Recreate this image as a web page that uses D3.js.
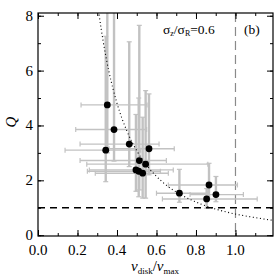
<!DOCTYPE html>
<html>
<head>
<meta charset="utf-8">
<script src="https://cdn.jsdelivr.net/npm/d3@7"></script>
<style>
  body { margin: 0; background: #fff; }
  svg text { font-family: "Liberation Serif", "DejaVu Serif", serif; fill: #000; }
</style>
</head>
<body>
<div id="chart"></div>
<script>
// data
var vDisk = [0.351, 0.385, 0.462, 0.343, 0.562, 0.513, 0.545, 0.496, 0.510, 0.530, 0.716, 0.866, 0.854, 0.901];
var qVal  = [4.75, 3.85, 3.32, 3.10, 3.15, 2.72, 2.59, 2.38, 2.33, 2.26, 1.53, 1.83, 1.32, 1.48];
var vLo   = [0.218, 0.191, 0.213, 0.137, 0.360, 0.213, 0.247, 0.260, 0.250, 0.290, 0.600, 0.660, 0.630, 0.770];
var vHi   = [0.552, 0.550, 0.613, 0.520, 0.690, 0.650, 0.860, 0.685, 0.620, 0.660, 0.860, 1.010, 1.110, 1.040];
var qLo   = [3.00, 2.70, 2.50, 1.95, 2.20, 1.65, 1.35, 1.60, 1.40, 1.35, 1.20, 1.30, 0.98, 1.22];
var qHi   = [9.00, 9.00, 7.05, 7.25, 5.15, 7.65, 5.27, 4.40, 5.00, 4.30, 2.40, 2.62, 1.70, 2.14];

// dotted model curve
var curveV = [0.300, 0.310, 0.330, 0.360, 0.400, 0.450, 0.500, 0.560, 0.630, 0.720, 0.820, 0.920, 1.000, 1.100, 1.190];
var curveQ = [8.56, 8.01, 7.07, 5.94, 4.81, 3.80, 3.08, 2.46, 1.94, 1.49, 1.15, 0.91, 0.77, 0.64, 0.54];

var xTicks = [0.0, 0.2, 0.4, 0.6, 0.8, 1.0];
var yTicks = [0, 2, 4, 6, 8];

var width = 276, height = 278;
var pl = 38, pr = 273, pt = 13, pb = 236;

var x = d3.scaleLinear().domain([0, 1.19]).range([pl, pr]);
var y = d3.scaleLinear().domain([-0.03, 8.1]).range([pb, pt]);

var svg = d3.select("#chart").append("svg")
    .attr("width", width)
    .attr("height", height);

svg.append("clipPath").attr("id", "clip")
  .append("rect")
    .attr("x", pl).attr("y", pt)
    .attr("width", pr - pl).attr("height", pb - pt);

var plot = svg.append("g").attr("clip-path", "url(#clip)");

var pts = vDisk.map(function(v, i) {
    return { v: v, q: qVal[i], vlo: vLo[i], vhi: vHi[i], qlo: qLo[i], qhi: qHi[i] };
});

// vertical reference at v=1
plot.append("line")
    .attr("x1", x(1)).attr("x2", x(1))
    .attr("y1", pt).attr("y2", pb)
    .attr("stroke", "#8a8a8a").attr("stroke-width", 1.2)
    .attr("stroke-dasharray", "9,5");

// error bars
var eb = plot.append("g").attr("stroke", "#c2c2c2").attr("fill", "none");
pts.forEach(function(d) {
    eb.append("line")
        .attr("x1", x(d.v)).attr("x2", x(d.v))
        .attr("y1", y(d.qlo)).attr("y2", y(d.qhi))
        .attr("stroke-width", 2.4);
    eb.append("line")
        .attr("x1", x(d.v) - 2.5).attr("x2", x(d.v) + 2.5)
        .attr("y1", y(d.qlo)).attr("y2", y(d.qlo)).attr("stroke-width", 1.2);
    eb.append("line")
        .attr("x1", x(d.v) - 2.5).attr("x2", x(d.v) + 2.5)
        .attr("y1", y(d.qhi)).attr("y2", y(d.qhi)).attr("stroke-width", 1.2);
    eb.append("line")
        .attr("x1", x(d.vlo)).attr("x2", x(d.vhi))
        .attr("y1", y(d.q)).attr("y2", y(d.q))
        .attr("stroke-width", 1.4);
    eb.append("line")
        .attr("x1", x(d.vlo)).attr("x2", x(d.vlo))
        .attr("y1", y(d.q) - 2.5).attr("y2", y(d.q) + 2.5).attr("stroke-width", 1.2);
    eb.append("line")
        .attr("x1", x(d.vhi)).attr("x2", x(d.vhi))
        .attr("y1", y(d.q) - 2.5).attr("y2", y(d.q) + 2.5).attr("stroke-width", 1.2);
});

// Q = 1 line
plot.append("line")
    .attr("x1", pl).attr("x2", pr)
    .attr("y1", y(1)).attr("y2", y(1))
    .attr("stroke", "#000").attr("stroke-width", 1.5)
    .attr("stroke-dasharray", "7,5");

// dotted curve
var line = d3.line()
    .x(function(d) { return x(d[0]); })
    .y(function(d) { return y(d[1]); })
    .curve(d3.curveMonotoneX);
plot.append("path")
    .datum(curveV.map(function(v, i) { return [v, curveQ[i]]; }))
    .attr("d", line)
    .attr("fill", "none")
    .attr("stroke", "#000").attr("stroke-width", 1.1)
    .attr("stroke-dasharray", "1,2.6");

// points
plot.selectAll("circle")
    .data(pts)
    .enter().append("circle")
    .attr("cx", function(d) { return x(d.v); })
    .attr("cy", function(d) { return y(d.q); })
    .attr("r", 3.4)
    .attr("fill", "#000");

// frame and ticks
svg.append("rect")
    .attr("x", pl).attr("y", pt)
    .attr("width", pr - pl).attr("height", pb - pt)
    .attr("fill", "none").attr("stroke", "#000").attr("stroke-width", 1.2);

var xMinor = d3.range(0, 1.2, 0.1);
var yMinor = d3.range(0, 8.01, 1);

function noDomain(g) { g.select(".domain").remove(); }

svg.append("g").attr("transform", "translate(0," + pb + ")")
    .call(d3.axisTop(x).tickValues(xMinor).tickSize(3).tickFormat("")).call(noDomain);
svg.append("g").attr("transform", "translate(0," + pt + ")")
    .call(d3.axisBottom(x).tickValues(xMinor).tickSize(3).tickFormat("")).call(noDomain);
svg.append("g").attr("transform", "translate(0," + pb + ")")
    .call(d3.axisTop(x).tickValues(xTicks).tickSize(6).tickFormat("")).call(noDomain);
svg.append("g").attr("transform", "translate(0," + pt + ")")
    .call(d3.axisBottom(x).tickValues(xTicks).tickSize(6).tickFormat("")).call(noDomain);

svg.append("g").attr("transform", "translate(" + pl + ",0)")
    .call(d3.axisRight(y).tickValues(yMinor).tickSize(3).tickFormat("")).call(noDomain);
svg.append("g").attr("transform", "translate(" + pr + ",0)")
    .call(d3.axisLeft(y).tickValues(yMinor).tickSize(3).tickFormat("")).call(noDomain);
svg.append("g").attr("transform", "translate(" + pl + ",0)")
    .call(d3.axisRight(y).tickValues(yTicks).tickSize(6).tickFormat("")).call(noDomain);
svg.append("g").attr("transform", "translate(" + pr + ",0)")
    .call(d3.axisLeft(y).tickValues(yTicks).tickSize(6).tickFormat("")).call(noDomain);

svg.selectAll(".tick line").attr("stroke", "#000").attr("stroke-width", 1);
svg.selectAll(".tick text").remove();

// tick labels
svg.selectAll(".xlab")
    .data(xTicks)
    .enter().append("text")
    .attr("x", function(d) { return x(d); })
    .attr("y", 255)
    .attr("text-anchor", "middle")
    .attr("font-size", 15)
    .text(function(d) { return d3.format(".1f")(d); });

svg.selectAll(".ylab")
    .data(yTicks)
    .enter().append("text")
    .attr("x", 33)
    .attr("y", function(d) { return y(d) + 5; })
    .attr("text-anchor", "end")
    .attr("font-size", 15)
    .text(function(d) { return d; });

// axis titles
svg.append("text")
    .attr("transform", "translate(16,122) rotate(-90)")
    .attr("text-anchor", "middle")
    .attr("font-size", 15)
    .attr("font-style", "italic")
    .text("Q");

var xt = svg.append("text")
    .attr("x", 155).attr("y", 271)
    .attr("text-anchor", "middle")
    .attr("font-size", 15);
xt.append("tspan").attr("font-style", "italic").text("v");
xt.append("tspan").attr("font-size", 9).attr("dy", 3).text("disk");
xt.append("tspan").attr("dy", -3).text("/");
xt.append("tspan").attr("font-style", "italic").text("v");
xt.append("tspan").attr("font-size", 9).attr("dy", 3).text("max");

// annotation
var ann = svg.append("text")
    .attr("x", 163).attr("y", 34)
    .attr("font-size", 13.5);
ann.append("tspan").text("σ");
ann.append("tspan").attr("font-size", 8).attr("dy", 2).text("z");
ann.append("tspan").attr("dy", -2).text("/σ");
ann.append("tspan").attr("font-size", 8).attr("dy", 2).text("R");
ann.append("tspan").attr("dy", -2).text("=0.6");

svg.append("text")
    .attr("x", 244).attr("y", 34)
    .attr("font-size", 13.5)
    .text("(b)");
</script>
</body>
</html>
